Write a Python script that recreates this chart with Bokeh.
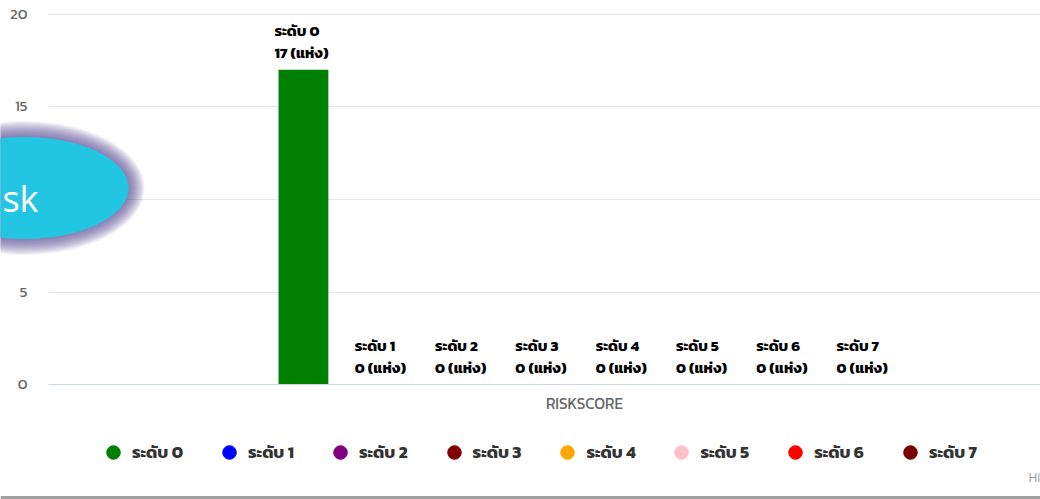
import numpy as np
from bokeh.plotting import figure
from bokeh.models import (Range1d, FixedTicker, ColumnDataSource, Legend, LegendItem,
                          Label, PolyAnnotation, LinearAxis, Grid)
from bokeh.core.properties import value
from bokeh.embed import file_html
from bokeh.resources import INLINE

# ---------------- data ----------------
categories = ["RISKSCORE"]
series_names = ["ระดับ 0", "ระดับ 1", "ระดับ 2", "ระดับ 3",
                "ระดับ 4", "ระดับ 5", "ระดับ 6", "ระดับ 7"]
series_values = [17, 0, 0, 0, 0, 0, 0, 0]
series_colors = ["#008000", "#0000ff", "#800080", "#800000",
                 "#ffa500", "#ffc0cb", "#ff0000", "#7a0000"]
unit_text = "(แห่ง)"
y_ticks = [0, 5, 10, 15, 20]

FONT = "Kanit, 'Noto Sans Thai', 'Noto Sans', sans-serif"

# ---------------- layout (Highcharts-like grouping) ----------------
n = len(series_names)
group_padding = 0.2
slot = (1 - 2 * group_padding) / n
xs = [-0.5 + group_padding + (i + 0.5) * slot for i in range(n)]
bar_w = slot * 0.62
labels = [f"{s}\n{v} {unit_text}" for s, v in zip(series_names, series_values)]

X_LEFT, X_RIGHT = -0.5006, 0.42589       # plot-area edges (category units)
p = figure(width=1040, height=499, output_backend="svg", toolbar_location=None,
           x_range=Range1d(-0.54544, X_RIGHT), y_range=Range1d(-6.173, 20.728),
           x_axis_location=None, y_axis_location=None,
           min_border_left=0, min_border_right=0, min_border_top=0, min_border_bottom=0)
p.outline_line_color = None
p.background_fill_color = "#ffffff"
p.border_fill_color = "#ffffff"

# remove default grids, add a bounded horizontal grid
p.center = [r for r in p.center if not isinstance(r, Grid)]
if "cross_bounds" in Grid.properties():
    p.add_layout(Grid(dimension=1, ticker=FixedTicker(ticks=y_ticks), grid_line_color="#e6e6e6",
                      cross_bounds=(X_LEFT, X_RIGHT)))
else:
    p.segment(x0=X_LEFT, x1=X_RIGHT, y0=y_ticks, y1=y_ticks, line_color="#e6e6e6", line_width=1)

# axes (fixed at the plot-area edges)
yaxis = LinearAxis(fixed_location=X_LEFT, bounds=(0, 20), ticker=FixedTicker(ticks=y_ticks),
                   axis_line_color=None, major_tick_line_color=None, minor_tick_line_color=None,
                   major_tick_out=0, major_tick_in=0, major_label_standoff=21,
                   major_label_text_color="#666666", major_label_text_font=FONT,
                   major_label_text_font_size="15px")
p.add_layout(yaxis, "left")
xaxis = LinearAxis(fixed_location=0, bounds=(X_LEFT, X_RIGHT), ticker=FixedTicker(ticks=[0]),
                   major_label_overrides={0: categories[0]},
                   axis_line_color="#ccd6eb", major_tick_line_color=None, minor_tick_line_color=None,
                   major_tick_out=0, major_tick_in=0, major_label_standoff=7,
                   major_label_text_color="#666666", major_label_text_font=FONT,
                   major_label_text_font_size="15.5px")
p.add_layout(xaxis, "below")

src = ColumnDataSource(dict(x=xs, top=series_values, color=series_colors, label=labels))
p.vbar(x="x", top="top", width=bar_w, color="color", line_color=None, source=src)
p.text(x="x", y="top", text="label", source=src, text_align="left",
       text_baseline="bottom", x_offset=-29, y_offset=-6,
       text_font=value(FONT), text_font_size="15px", text_font_style="bold",
       text_color="#000000", text_line_height=0.95)

# legend (circle markers)
items = []
for name, c in zip(series_names, series_colors):
    r = p.scatter(x=[np.nan], y=[np.nan], marker="circle", size=14, color=c)
    items.append(LegendItem(label=name, renderers=[r]))
legend = Legend(items=items, orientation="horizontal", location=(96, 30),
                glyph_width=34, glyph_height=34, label_standoff=2, spacing=29,
                padding=0, margin=0, border_line_color=None,
                background_fill_alpha=0,
                label_text_font=FONT, label_text_font_size="17px",
                label_text_font_style="bold", label_text_color="#333333")
p.add_layout(legend)

# overlay badge (ellipse with purple glow), screen units
t = np.linspace(0, 2 * np.pi, 160)
cx, cy, a, b = 24, 311.5, 104, 51
for k in range(16, 0, -1):
    p.add_layout(PolyAnnotation(xs=list(cx + (a + k) * np.cos(t)), ys=list(cy + (b + k) * np.sin(t)),
                                xs_units="screen", ys_units="screen",
                                fill_color="#5e4f98", fill_alpha=0.065, line_color=None))
p.add_layout(PolyAnnotation(xs=list(cx + a * np.cos(t)), ys=list(cy + b * np.sin(t)),
                            xs_units="screen", ys_units="screen",
                            fill_color="#22c5e2", fill_alpha=1, line_color=None))
p.add_layout(Label(x=38, y=301, x_units="screen", y_units="screen", text="Risk",
                   text_align="right", text_baseline="alphabetic",
                   text_font="Open Sans", text_font_size="36px", text_color="#ffffff"))

# credits + bottom bar
p.add_layout(Label(x=1028, y=14, x_units="screen", y_units="screen", text="Highcharts.com",
                   text_font="Open Sans", text_font_size="12px", text_color="#999999"))
p.add_layout(PolyAnnotation(xs=[0, 1040, 1040, 0], ys=[0, 0, 3.5, 3.5],
                            xs_units="screen", ys_units="screen",
                            fill_color="#a0a0a0", fill_alpha=1, line_color=None))

open("out.html", "w").write(file_html(p, INLINE))
